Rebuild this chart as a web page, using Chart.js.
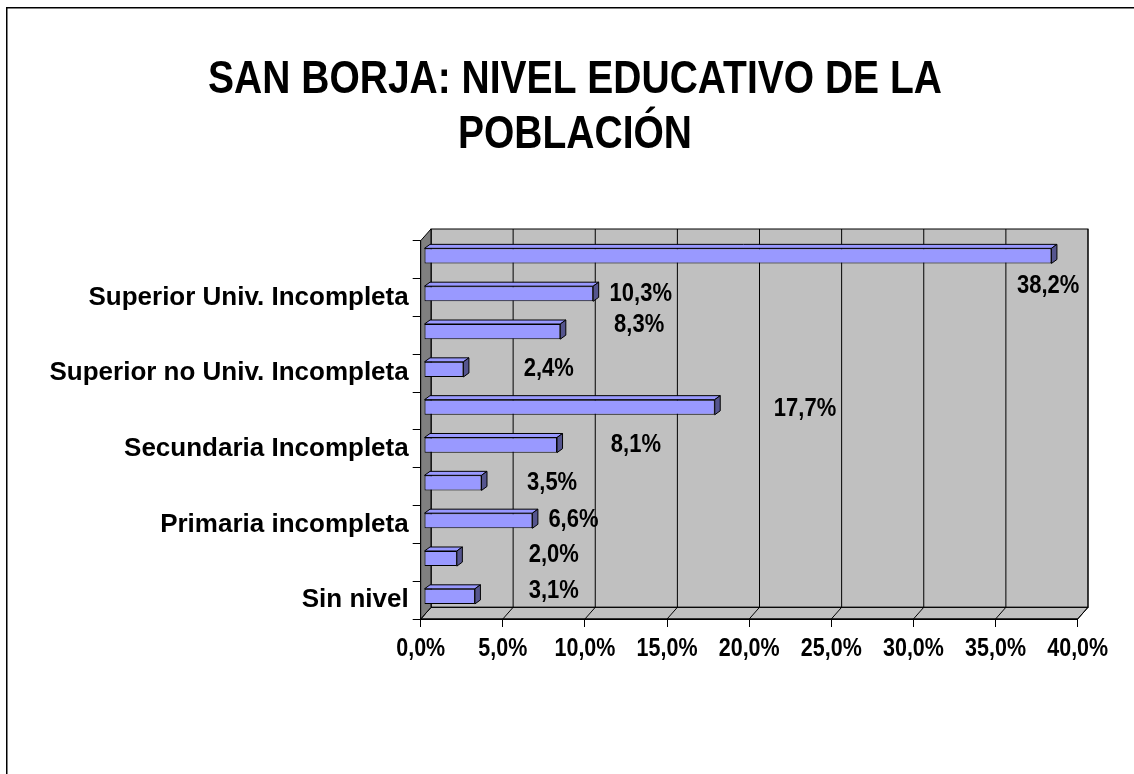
<!DOCTYPE html>
<html><head><meta charset="utf-8">
<script src="https://cdn.jsdelivr.net/npm/chart.js@4.4.1/dist/chart.umd.min.js"></script>
<style>html,body{margin:0;padding:0;background:#fff;} canvas{display:block;}</style>
</head><body>
<canvas id="c" width="1134" height="774"></canvas>
<script>
// ---- data ----
const titleLines = ['SAN BORJA: NIVEL EDUCATIVO DE LA', 'POBLACIÓN'];
const categories = ['Superior Univ. Completa', 'Superior Univ. Incompleta', 'Superior no Univ. Completa', 'Superior no Univ. Incompleta', 'Secundaria Completa', 'Secundaria Incompleta', 'Primaria completa', 'Primaria incompleta', 'Inicial', 'Sin nivel'];
const shownCategoryLabels = [false, true, false, true, false, true, false, true, false, true];
const values = [38.2, 10.3, 8.3, 2.4, 17.7, 8.1, 3.5, 6.6, 2.0, 3.1];
const xTickValues = [0, 5, 10, 15, 20, 25, 30, 35, 40];
// where the data labels sit (position along the value axis, and shift in category bands)
const labelAnchorValue = [38.2, 13.4, 13.3, 7.8, 23.4, 13.1, 8.0, 9.3, 8.1, 8.1];
const labelAnchorShift = [0.69, -0.11, -0.27, -0.12, -0.07, -0.10, -0.11, -0.12, -0.21, -0.24];

// ---- style ----
const FONT = "'Liberation Sans', Arial, Helvetica, sans-serif";
const STRETCH = 1.2;          // text in the original is drawn taller than wide
const WALL = {dx: 10.3, dy: -11.7};
const BAR_SHIFT = {dx: 3.3, dy: -3.7};
const BAR_DEPTH = {dx: 5.5, dy: -4};
const fmt = v => v.toFixed(1).replace('.', ',') + '%';

function poly(ctx, pts, fill) {
  ctx.beginPath();
  ctx.moveTo(pts[0][0], pts[0][1]);
  for (let i = 1; i < pts.length; i++) ctx.lineTo(pts[i][0], pts[i][1]);
  ctx.closePath();
  if (fill) { ctx.fillStyle = fill; ctx.fill(); }
  ctx.stroke();
}
function stretchY(ctx, cy, fn) {
  ctx.save();
  ctx.translate(0, cy);
  ctx.scale(1, STRETCH);
  ctx.translate(0, -cy);
  fn();
  ctx.restore();
}

const threeD = {
  id: 'threeD',
  afterLayout(chart) {
    const tb = chart.titleBlock;
    if (tb) {
      tb.left = 16; tb.right = 1134;
      if (!tb._stretched) {
        const orig = tb.draw.bind(tb);
        tb.draw = function () { stretchY(this.ctx, 0, orig); };
        tb._stretched = true;
      }
    }
    const xs = chart.scales.x;
    if (xs && !xs._stretched) {
      const origL = xs.drawLabels.bind(xs);
      xs.drawLabels = function (area) { stretchY(this.ctx, this.top + 29, () => origL(area)); };
      xs._stretched = true;
    }
  },
  beforeDraw(chart) {
    const ctx = chart.ctx;
    ctx.save();
    ctx.fillStyle = '#fff';
    ctx.fillRect(0, 0, chart.width, chart.height);
    ctx.strokeStyle = '#000';
    ctx.lineWidth = 1.5;
    ctx.strokeRect(6.75, 7.75, 1400, 1000);
    ctx.restore();
  },
  beforeDatasetsDraw(chart) {
    const {ctx, chartArea: a, scales: {x}} = chart;
    const {dx, dy} = WALL;
    ctx.save();
    ctx.lineWidth = 1;
    ctx.strokeStyle = '#000';
    ctx.fillStyle = '#c0c0c0';
    ctx.fillRect(a.left + dx, a.top + dy, a.right - a.left, a.bottom - a.top);
    poly(ctx, [[a.left, a.bottom], [a.right, a.bottom], [a.right + dx, a.bottom + dy], [a.left + dx, a.bottom + dy]], '#c0c0c0');
    xTickValues.forEach(v => {
      const px = x.getPixelForValue(v);
      ctx.beginPath();
      ctx.moveTo(px + dx, a.top + dy);
      ctx.lineTo(px + dx, a.bottom + dy);
      ctx.moveTo(px, a.bottom);
      ctx.lineTo(px + dx, a.bottom + dy);
      ctx.stroke();
    });
    ctx.strokeRect(a.left + dx, a.top + dy, a.right - a.left, a.bottom - a.top);
    poly(ctx, [[a.left, a.top], [a.left + dx, a.top + dy], [a.left + dx, a.bottom + dy], [a.left, a.bottom]], '#808080');
    ctx.beginPath();
    ctx.moveTo(a.left, a.bottom); ctx.lineTo(a.right, a.bottom); ctx.stroke();
    ctx.restore();
    ctx.save();
    ctx.translate(BAR_SHIFT.dx, BAR_SHIFT.dy);
  },
  afterDatasetsDraw(chart) {
    const ctx = chart.ctx;
    const meta = chart.getDatasetMeta(0);
    ctx.lineWidth = 1;
    ctx.strokeStyle = '#000';
    ctx.lineJoin = 'round';
    meta.data.forEach(bar => {
      const {x, y, base, height} = bar.getProps(['x', 'y', 'base', 'height'], true);
      const t = y - height / 2, b = y + height / 2;
      const {dx, dy} = BAR_DEPTH;
      poly(ctx, [[base, t], [x, t], [x + dx, t + dy], [base + dx, t + dy]], '#9999ff');
      poly(ctx, [[x, t], [x + dx, t + dy], [x + dx, b + dy], [x, b]], '#55558e');
    });
    ctx.restore();
    // data labels
    const {scales: {x: xs, y: ys}} = chart;
    const band = Math.abs(ys.getPixelForValue(1) - ys.getPixelForValue(0));
    ctx.save();
    ctx.font = 'bold 22px ' + FONT;
    ctx.fillStyle = '#000';
    ctx.textAlign = 'center';
    ctx.textBaseline = 'middle';
    values.forEach((v, i) => {
      const px = xs.getPixelForValue(labelAnchorValue[i]);
      const py = ys.getPixelForValue(i) + labelAnchorShift[i] * band;
      stretchY(ctx, py, () => ctx.fillText(fmt(v), px, py));
    });
    ctx.restore();
  }
};

new Chart(document.getElementById('c'), {
  type: 'bar',
  data: {
    labels: categories,
    datasets: [{
      data: values,
      backgroundColor: '#9999ff',
      borderColor: '#000',
      borderWidth: 1,
      borderSkipped: false,
      categoryPercentage: 1,
      barPercentage: 0.4,
      clip: false
    }]
  },
  options: {
    indexAxis: 'y',
    responsive: false,
    animation: false,
    devicePixelRatio: 1,
    layout: {padding: {left: 0, top: 0, right: 56.3, bottom: 0}},
    plugins: {
      legend: {display: false},
      tooltip: {enabled: false},
      title: {
        display: true,
        text: titleLines,
        color: '#000',
        font: {family: FONT, size: 39, weight: 'bold', lineHeight: 45.8 / 39},
        padding: {top: 43.8, bottom: 105.3}
      }
    },
    scales: {
      x: {
        type: 'linear',
        min: xTickValues[0],
        max: xTickValues[xTickValues.length - 1],
        afterFit(s) { s.height = 155; },
        ticks: {
          stepSize: xTickValues[1] - xTickValues[0],
          callback: v => fmt(v),
          color: '#000',
          font: {family: FONT, size: 21.5, weight: 'bold'},
          padding: 9,
          maxRotation: 0,
          autoSkip: false
        },
        grid: {drawOnChartArea: false, drawTicks: true, tickLength: 8, color: '#000', lineWidth: 1},
        border: {display: true, color: '#000', width: 1}
      },
      y: {
        type: 'category',
        afterFit(s) { s.width = 420.7; },
        ticks: {
          callback: (v, i) => shownCategoryLabels[i] ? categories[i] : '',
          color: '#000',
          font: {family: FONT, size: 26, weight: 'bold'},
          padding: 4,
          autoSkip: false
        },
        grid: {offset: true, drawOnChartArea: false, drawTicks: true, tickLength: 8, color: '#000', lineWidth: 1},
        border: {display: true, color: '#000', width: 1}
      }
    }
  },
  plugins: [threeD]
});
</script>
</body></html>
